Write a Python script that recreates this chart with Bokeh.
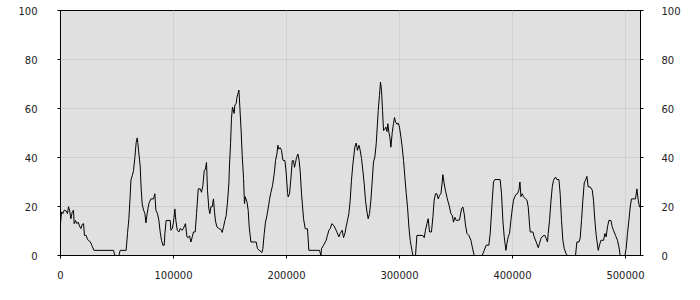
from bokeh.plotting import figure
from bokeh.models import LinearAxis, FixedTicker, BasicTickFormatter, Range1d
from bokeh.embed import file_html
from bokeh.resources import INLINE

x_values = [
    0, 900, 2100, 3300, 5000, 6200, 7100, 8000, 9200, 10400, 11500, 12100, 13300, 14500,
    15700, 16800, 18100, 19200, 20400, 21200, 22700, 23900, 25700, 26900, 28100, 29600,
    46900, 48100, 51700, 52800, 58100, 59300, 60500, 61700, 62300, 63500, 64600, 65800,
    67000, 67900, 68500, 69400, 70500, 71400, 72300, 73500, 74700, 75600, 76700, 78200,
    80000, 82300, 83500, 84400, 85800, 87100, 88200, 89400, 90600, 91800, 92400, 93500,
    97100, 97700, 98900, 100000, 101200, 102100, 103300, 104800, 105900, 107700, 108900,
    110600, 111900, 113000, 114200, 115400, 116600, 117700, 119200, 120400, 121900, 123600,
    124800, 126000, 127200, 128300, 129200, 130100, 131300, 132200, 133100, 134300, 135400,
    136300, 137200, 138400, 140200, 142000, 143100, 144300, 145500, 146600, 147800, 149000,
    149600, 150500, 151300, 152200, 153700, 154300, 155500, 156100, 157300, 157900, 158800,
    159900, 160800, 162000, 162800, 163500, 165000, 166100, 167000, 168500, 173200, 174300,
    178200, 179100, 180300, 181400, 182700, 184400, 185000, 186200, 187600, 189100, 190300,
    191500, 192400, 193300, 194400, 195600, 196800, 198600, 199700, 200900, 201500, 202700,
    203900, 205100, 206200, 207100, 208000, 208900, 210100, 211200, 212100, 213300, 215100,
    216600, 218600, 219800, 229200, 230500, 231000, 232800, 235100, 236300, 237500, 238700,
    240200, 242200, 244600, 246400, 247500, 249300, 250500, 251700, 252800, 254000, 255200,
    256400, 257500, 258800, 260500, 261700, 262800, 264100, 265200, 266400, 267600, 268800,
    269900, 271200, 272300, 273500, 274700, 275900, 277000, 278200, 279400, 280300, 281200,
    282300, 283200, 284100, 285000, 285900, 287100, 288000, 288900, 289700, 290600, 291500,
    292400, 293600, 294700, 295600, 296500, 297700, 298900, 300000, 301300, 302400, 303600,
    304800, 305900, 307100, 308300, 309500, 311000, 311900, 314200, 315400, 320700, 321900,
    323000, 324300, 325400, 326600, 328300, 329600, 330700, 331900, 333100, 334300, 335400,
    336700, 337800, 338400, 339600, 340700, 342000, 343100, 344300, 345500, 346700, 347800,
    349000, 350200, 353100, 354900, 356100, 357300, 358400, 359700, 361400, 363200, 364400,
    366100, 373200, 375000, 376700, 379100, 380300, 381200, 382100, 383200, 384400, 389100,
    390300, 391500, 392700, 394200, 395100, 396200, 397400, 398600, 399800, 400900, 402100,
    403300, 404400, 405700, 406600, 407500, 408600, 409800, 411500, 412800, 413900, 415200,
    415700, 418100, 419200, 421000, 422800, 423900, 425200, 426900, 428700, 429800, 431000,
    431600, 432800, 434000, 435200, 436300, 438100, 439300, 441100, 442200, 443400, 444600,
    445800, 447500, 448700, 455800, 457000, 458800, 459900, 461100, 462300, 463500, 464600,
    465900, 467000, 468800, 470600, 471700, 472900, 474100, 475900, 477000, 478300, 480600,
    481800, 482900, 484100, 485300, 487100, 488300, 489400, 491200, 492900, 494200, 495300,
    499500, 500600, 501800, 503000, 504200, 505300, 508900, 510100, 511300, 512400, 513300,
]

y_values = [
    13.0, 17.8, 17.1, 18.5, 18.2, 17.1, 19.9, 18.5, 15.0, 17.8, 18.5, 13.0, 14.3, 13.0,
    13.6, 12.0, 11.0, 12.7, 13.0, 8.2, 8.2, 6.5, 5.9, 5.1, 3.7, 2.1,
    2.1, 0.0, 0.0, 2.1, 2.1, 9.0, 15.0, 24.5, 30.7, 32.6, 34.6, 40.0,
    46.2, 48.0, 45.8, 41.4, 36.7, 27.2, 21.0, 18.5, 17.1, 13.3, 17.1, 21.2,
    23.1, 23.1, 25.2, 18.5, 17.1, 14.3, 9.6, 6.2, 4.2, 4.2, 9.0, 14.3,
    14.3, 10.3, 11.0, 13.6, 19.0, 14.3, 10.3, 9.6, 11.0, 10.3, 11.2,
    13.0, 7.6, 7.3, 8.0, 5.5, 7.6, 9.6, 9.6, 17.1, 27.2, 27.2,
    25.8, 28.5, 34.6, 35.3, 38.0, 26.5, 19.0, 17.1, 19.9, 19.9, 23.1,
    17.8, 14.0, 11.7, 11.0, 10.6, 9.4, 11.7, 14.3, 16.3, 21.8, 29.3,
    37.4, 45.6, 55.8, 60.6, 58.0, 61.5, 62.0, 64.5, 66.5, 67.5, 60.0,
    50.5, 40.9, 31.4, 21.2, 24.0, 21.9, 18.5, 11.7, 5.5, 5.5, 2.8,
    1.2, 2.8, 8.9, 13.6, 16.3, 21.0, 23.0, 25.7, 28.5, 33.2, 38.7,
    41.4, 45.0, 43.4, 44.0, 43.0, 38.9, 38.7, 34.0, 25.8, 23.9, 25.2,
    31.4, 38.7, 38.7, 36.0, 38.0, 40.0, 41.4, 38.7, 34.6, 25.2, 15.0,
    10.9, 10.9, 2.1, 2.1, 0.0, 2.8, 4.2, 6.2, 8.3, 10.3, 11.0,
    13.0, 12.0, 9.6, 7.6, 9.0, 10.3, 7.3, 9.0, 11.7, 14.4, 17.1,
    22.6, 30.7, 37.5, 44.3, 45.9, 42.9, 45.0, 43.0, 39.6, 34.6, 29.2,
    22.6, 17.8, 15.0, 17.1, 22.6, 30.7, 38.2, 40.2, 45.6, 52.4, 59.2,
    65.3, 70.8, 67.4, 59.2, 51.0, 51.7, 52.4, 50.6, 53.8, 50.3, 48.3,
    44.2, 50.3, 53.8, 56.3, 54.5, 53.6, 54.0, 52.4, 48.3, 44.2, 38.7,
    31.8, 25.7, 19.9, 11.7, 6.2, 2.1, 0.0, 0.0, 8.2, 8.2, 7.3,
    10.3, 13.0, 15.0, 9.6, 9.6, 15.8, 22.6, 25.2, 25.2, 23.1, 24.5,
    25.2, 30.0, 33.0, 29.2, 26.5, 23.8, 21.8, 19.8, 17.0, 16.4, 13.6,
    15.6, 14.3, 14.5, 19.0, 19.8, 17.0, 12.4, 9.0, 8.2, 6.2, 3.5,
    0.0, 0.0, 2.1, 4.2, 4.2, 9.0, 15.8, 22.6, 30.0, 31.0, 31.0,
    25.2, 14.3, 7.6, 2.1, 4.9, 7.6, 9.0, 14.3, 19.0, 22.6, 24.0,
    25.0, 25.2, 26.7, 30.0, 24.0, 25.2, 24.0, 23.1, 22.6, 20.0, 12.0,
    9.6, 9.6, 7.6, 5.5, 3.2, 4.9, 7.0, 8.0, 8.2, 7.0, 5.5,
    9.0, 14.3, 21.9, 28.0, 30.7, 32.0, 31.0, 31.0, 25.2, 14.3, 6.2,
    2.8, 0.7, 0.0, 0.0, 5.5, 5.5, 7.0, 14.3, 22.6, 29.6, 30.7,
    32.3, 28.0, 28.0, 26.7, 22.6, 14.3, 8.2, 2.1, 4.2, 6.2, 6.2,
    9.0, 7.6, 11.7, 14.3, 14.3, 11.7, 10.3, 8.2, 6.2, 3.5, 0.0,
    0.0, 2.8, 9.0, 14.3, 19.8, 23.1, 23.1, 27.2, 22.6, 19.8, 19.8,
]

x_ticks = [0, 100000, 200000, 300000, 400000, 500000]
y_ticks = [0, 20, 40, 60, 80, 100]

FONT = "DejaVu Sans"
TEXT_COLOR = "#222222"

p = figure(
    width=700, height=300,
    output_backend="svg", toolbar_location=None,
    x_range=Range1d(0, 513300), y_range=Range1d(0, 100),
    min_border_left=60, min_border_right=60,
    min_border_top=10, min_border_bottom=45,
    background_fill_color="#e0e0e0", border_fill_color="white",
    y_axis_location="left",
)
p.outline_line_color = "black"
p.outline_line_width = 1
p.outline_line_alpha = 1

p.line(x_values, y_values, line_color="black", line_width=1)

right_axis = LinearAxis()
p.add_layout(right_axis, "right")


def style(ax, ticks, standoff):
    ax.ticker = FixedTicker(ticks=ticks)
    ax.formatter = BasicTickFormatter(use_scientific=False)
    ax.axis_line_color = "black"
    ax.major_tick_line_color = "black"
    ax.major_tick_out = 3
    ax.major_tick_in = 0
    ax.minor_tick_line_color = None
    ax.major_label_text_font = FONT
    ax.major_label_text_font_size = "10px"
    ax.major_label_text_color = TEXT_COLOR
    ax.major_label_standoff = standoff


style(p.xaxis[0], x_ticks, 12)
style(p.yaxis[0], y_ticks, 20)
style(right_axis, y_ticks, 18)

p.xgrid.ticker = FixedTicker(ticks=x_ticks)
p.ygrid.ticker = FixedTicker(ticks=y_ticks)
p.grid.grid_line_color = "#d0d0d0"
p.grid.grid_line_width = 1

open("out.html", "w").write(file_html(p, INLINE))
